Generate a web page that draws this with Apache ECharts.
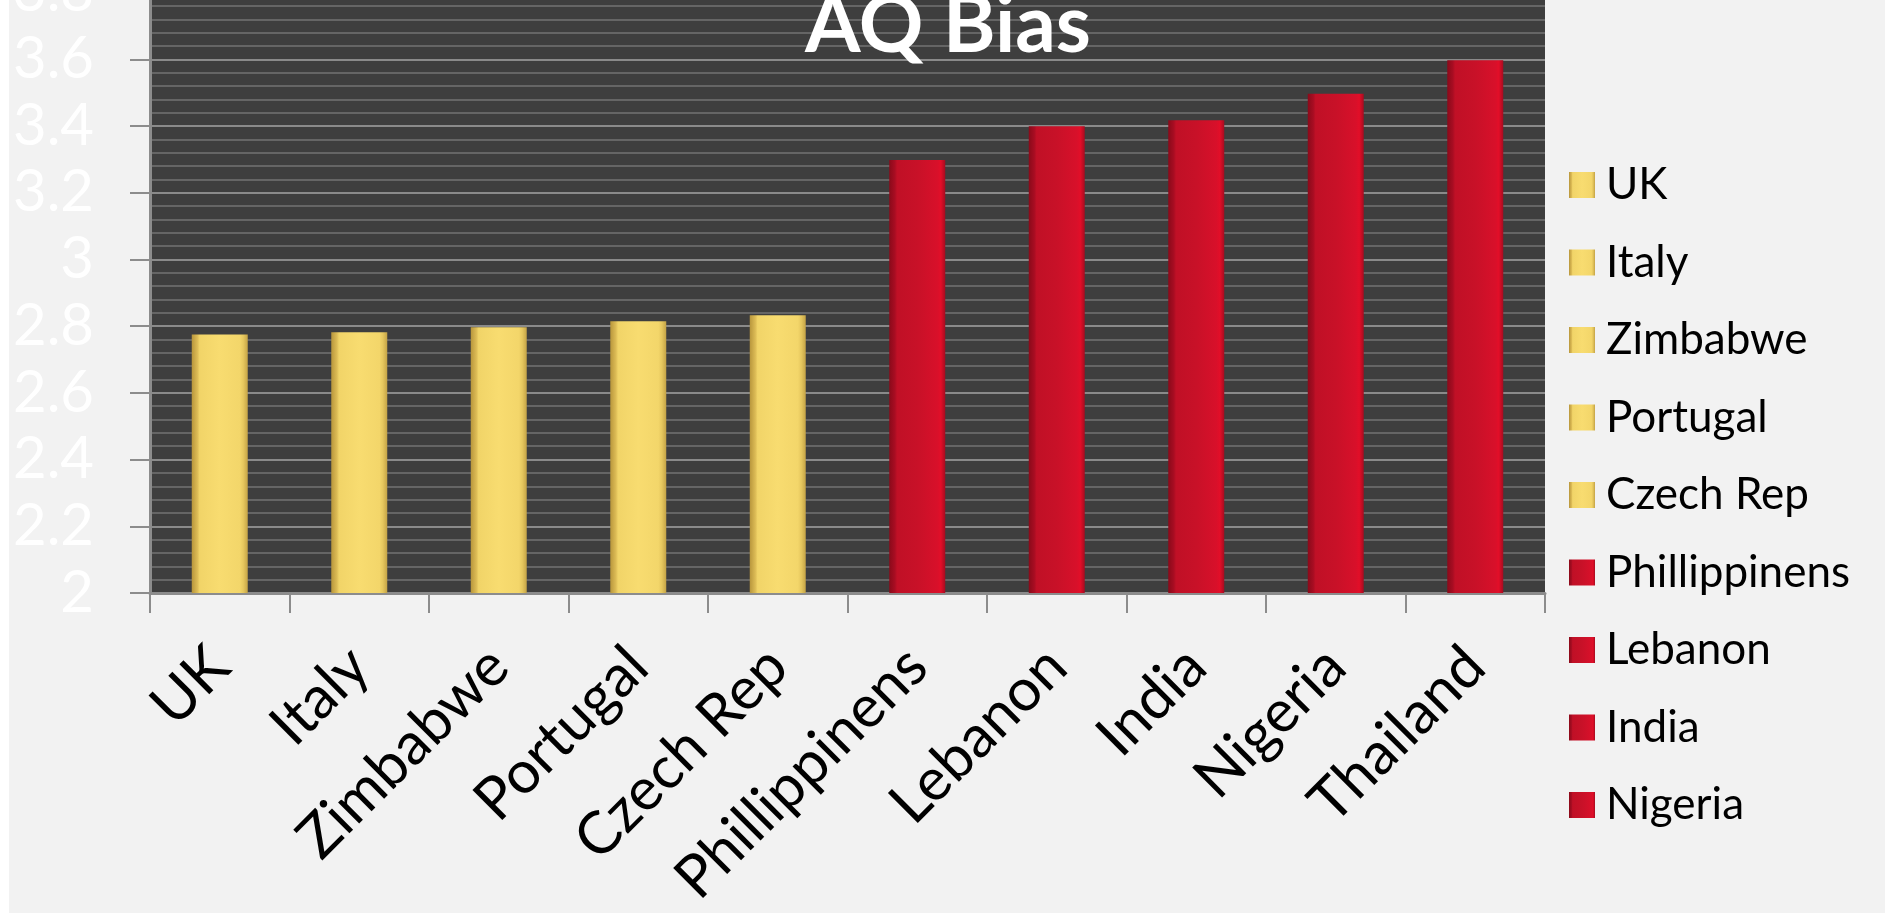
<!DOCTYPE html>
<html>
<head>
<meta charset="utf-8">
<script src="https://cdn.jsdelivr.net/npm/echarts@6/dist/echarts.min.js"></script>
<style>
html,body{margin:0;padding:0;background:#ffffff;}
#chart{width:1885px;height:913px;}
</style>
</head>
<body>
<div id="chart"></div>
<script>
// ---- data ----
const categories = ['UK','Italy','Zimbabwe','Portugal','Czech Rep','Phillippinens','Lebanon','India','Nigeria','Thailand'];
const values = [2.775, 2.782, 2.797, 2.815, 2.833, 3.298, 3.399, 3.417, 3.497, 3.597];
const biasGroup = ['low','low','low','low','low','high','high','high','high','high'];
const legendNames = ['UK','Italy','Zimbabwe','Portugal','Czech Rep','Phillippinens','Lebanon','India','Nigeria'];
const yTicks = {min: 2, max: 3.8, interval: 0.2};
const chartTitle = 'AQ Bias';

// ---- styles ----
const FONT = 'Lato, "Open Sans", sans-serif';
function grad(stops){
  return new echarts.graphic.LinearGradient(0,0,1,0, stops.map(c=>({offset:c[0], color:c[1]})));
}
const goldFill = () => grad([[0,'#b8963c'],[0.1,'#dcbb55'],[0.14,'#f1d468'],[0.5,'#f8dc70'],[0.86,'#f3d66a'],[0.92,'#e6c75e'],[1,'#c4a346']]);
const redFill = () => grad([[0,'#8a0a1a'],[0.1,'#a80d22'],[0.14,'#c01026'],[0.5,'#c81128'],[0.86,'#d8102a'],[0.92,'#e20e28'],[1,'#a60c20']]);

const series = categories.map((name, i) => ({
  name: name,
  type: 'bar',
  barWidth: 56,
  barGap: '-100%',
  data: categories.map((c, j) => j === i ? values[i] : null),
  itemStyle: { color: biasGroup[i] === 'low' ? goldFill() : redFill() },
  emphasis: { disabled: true },
  animation: false
}));

const chart = echarts.init(document.getElementById('chart'), null, {renderer: 'canvas'});
chart.setOption({
  backgroundColor: '#f2f2f2',
  animation: false,
  title: {
    text: chartTitle,
    left: 943,
    top: -19,
    textAlign: 'center',
    textStyle: { color: '#ffffff', fontSize: 80, fontWeight: 'bold', fontFamily: FONT }
  },
  graphic: [
    { type: 'rect', left: 0, top: 0, shape: { width: 9, height: 913 }, style: { fill: '#ffffff' }, z: 100 }
  ],
  legend: {
    orient: 'vertical',
    left: 1564,
    top: 155,
    itemWidth: 26,
    itemHeight: 26,
    itemGap: 27.5,
    icon: 'rect',
    data: legendNames,
    selectedMode: false,
    textStyle: { color: '#000000', fontSize: 44, fontFamily: FONT, lineHeight: 50, padding: [0,0,0,6] }
  },
  grid: {
    left: 150,
    right: 1885 - 1545,
    top: -7.4,
    bottom: 913 - 593,
    show: true,
    backgroundColor: '#3e3e3e',
    borderWidth: 0,
    containLabel: false,
    outerBoundsMode: 'none'
  },
  xAxis: {
    type: 'category',
    data: categories,
    boundaryGap: true,
    axisLine: { show: true, lineStyle: { color: '#8c8c8c', width: 3 } },
    axisTick: { show: true, length: 20, lineStyle: { color: '#8c8c8c', width: 2 } },
    axisLabel: { rotate: 45, margin: 64, color: '#000000', fontSize: 59, fontFamily: FONT, interval: 0 },
    splitLine: { show: false }
  },
  yAxis: {
    type: 'value',
    min: yTicks.min,
    max: yTicks.max,
    interval: yTicks.interval,
    axisLine: { show: true, lineStyle: { color: '#8c8c8c', width: 3 } },
    axisTick: { show: true, length: 20, lineStyle: { color: '#8c8c8c', width: 2 } },
    axisLabel: { margin: 56, color: '#ffffff', fontSize: 58, fontFamily: FONT,
      formatter: v => String(Math.round(v * 10) / 10) },
    splitLine: { show: true, lineStyle: { color: '#8a8a8a', width: 2 } },
    minorTick: { show: false, splitNumber: 5 },
    minorSplitLine: { show: true, lineStyle: { color: '#656565', width: 2 } }
  },
  series: series
});
</script>
</body>
</html>
